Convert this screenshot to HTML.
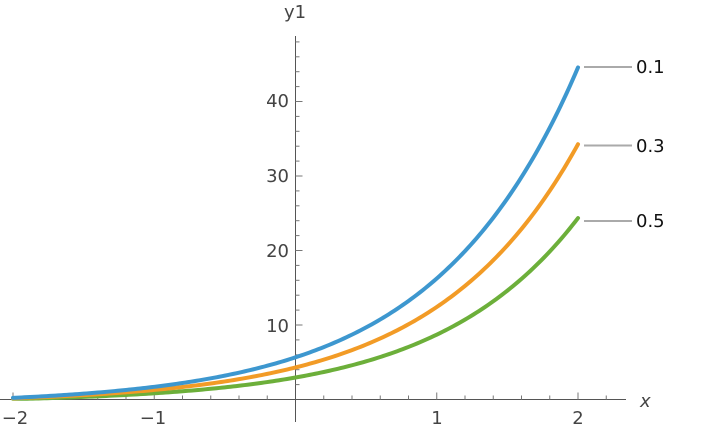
<!DOCTYPE html><html><head><meta charset="utf-8"><style>body{margin:0;background:#fff}svg{display:block}text{font-family:"DejaVu Sans","Liberation Sans",sans-serif;font-size:18px;fill:#444}</style></head><body>
<svg id="s" width="720" height="432" viewBox="0 0 720 432">
<g stroke="#555" stroke-width="1">
<line x1="0" y1="399.5" x2="626" y2="399.5"/>
<line x1="295.5" y1="36" x2="295.5" y2="422"/>
</g>
<g id="ticks" stroke="#777" stroke-width="1"></g>
<g text-anchor="middle">
<text x="15" y="424">−2</text><text x="153" y="424">−1</text><text x="437" y="424">1</text><text x="578" y="424">2</text>
</g>
<g text-anchor="end">
<text x="289" y="332">10</text><text x="289" y="257">20</text><text x="289" y="182">30</text><text x="289" y="107">40</text>
</g>
<text x="640" y="407" style="font-style:italic">x</text>
<text x="295" y="18" text-anchor="middle">y1</text>
<g stroke="#aaa" stroke-width="2"><line x1="584" y1="67" x2="632" y2="67"/><line x1="584" y1="145.5" x2="632" y2="145.5"/><line x1="584" y1="221" x2="632" y2="221"/></g>
<g><text x="636" y="73" style="fill:#111">0.1</text><text x="636" y="152" style="fill:#111">0.3</text><text x="636" y="227" style="fill:#111">0.5</text></g>
<g id="curves" fill="none" stroke-width="4" stroke-linecap="round"></g>
</svg>
<script>
var px=function(x){return 295.5+141.25*x},py=function(v){return 399.5-7.45*v};
var t=document.getElementById('ticks'),h='';
for(var i=-10;i<=11;i++){if(i==0)continue;var x=px(i*0.2);var L=(i%5==0)?7:4;h+='<line x1="'+x+'" y1="'+399.5+'" x2="'+x+'" y2="'+(399.5-L)+'"/>';}
for(var j=1;j<=24;j++){var y=py(j*2);var L=(j%5==0)?7:4;h+='<line x1="295.5" y1="'+y+'" x2="'+(295.5+L)+'" y2="'+y+'"/>';}
t.innerHTML=h;
var S=[[6.32,0.984,-0.66,'#3d97cf'],[4.8,0.99,-0.5,'#f29b26'],[3.35,1.0,-0.4,'#6caf3a']],c='';
S.reverse().forEach(function(s){var d='';for(var k=0;k<=200;k++){var x=-2+4*k/200;var v=Math.max(0.1,s[0]*Math.exp(s[1]*x)+s[2]);d+=(k?'L':'M')+px(x).toFixed(2)+' '+py(v).toFixed(2);}c+='<path d="'+d+'" stroke="'+s[3]+'"/>';});
document.getElementById('curves').innerHTML=c;
</script>
</body></html>
